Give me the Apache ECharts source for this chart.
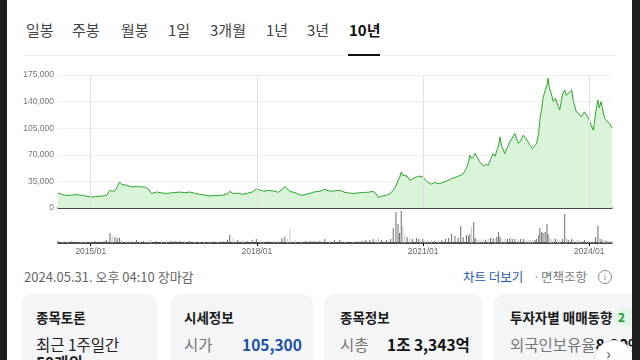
<!DOCTYPE html>
<html><head><meta charset="utf-8">
<script src="https://cdn.jsdelivr.net/npm/echarts@6/dist/echarts.min.js"></script>
<style>
html,body{margin:0;padding:0;width:640px;height:360px;overflow:hidden;background:#fff;font-family:"Noto Sans CJK KR","Noto Sans",sans-serif;}
.a{position:absolute;white-space:nowrap;}
.tab{top:20px;line-height:20px;font-size:15px;color:#444;}
.card{position:absolute;top:294px;height:90px;background:#f4f5f7;border-radius:11px;}
.ct{top:308px;line-height:18px;font-size:13.5px;font-weight:bold;color:#1a1a1a;}
.cl{top:334px;line-height:20px;font-size:15.5px;color:#222;}
</style></head><body>
<div class="a" style="left:0;top:0;width:7px;height:360px;background:#1f1f1f;z-index:5"></div>
<div class="a" style="left:632px;top:0;width:8px;height:360px;background:#1f1f1f;z-index:5"></div>

<div class="a tab" style="left:26px">일봉</div>
<div class="a tab" style="left:72px">주봉</div>
<div class="a tab" style="left:121px">월봉</div>
<div class="a tab" style="left:168px">1일</div>
<div class="a tab" style="left:210px">3개월</div>
<div class="a tab" style="left:266px">1년</div>
<div class="a tab" style="left:307px">3년</div>
<div class="a tab" style="left:349px;font-weight:bold;color:#111">10년</div>
<div class="a" style="left:24px;top:55px;width:592px;height:1px;background:#ebebeb"></div>
<div class="a" style="left:348px;top:54px;width:32px;height:2px;background:#111"></div>

<div id="chart" class="a" style="left:0;top:0;width:640px;height:265px;"></div>

<div class="a" style="left:24px;top:269px;line-height:16px;font-size:13px;color:#666">2024.05.31. 오후 04:10 장마감</div>
<div class="a" style="left:463px;top:269px;line-height:16px;font-size:12.5px;color:#1f56b3">차트 더보기</div>
<div class="a" style="left:533px;top:269px;line-height:16px;font-size:12.5px;color:#999">·</div>
<div class="a" style="left:541px;top:269px;line-height:16px;font-size:12.5px;color:#777">면책조항</div>
<div class="a" style="left:598px;top:270px;width:12px;height:12px;border:1px solid #888;border-radius:50%;font-size:9px;line-height:12px;text-align:center;color:#777;font-family:'Liberation Serif',serif">i</div>

<div class="card" style="left:22px;width:135px"></div>
<div class="card" style="left:170px;width:143px"></div>
<div class="card" style="left:324px;width:158px"></div>
<div class="card" style="left:494px;width:170px"></div>

<div class="a ct" style="left:36px">종목토론</div>
<div class="a cl" style="left:36px">최근 1주일간</div>
<div class="a cl" style="left:36px;top:352px;font-weight:bold">59개의</div>

<div class="a ct" style="left:184px">시세정보</div>
<div class="a cl" style="left:184px;color:#777">시가</div>
<div class="a cl" style="left:242px;font-weight:bold;color:#1c4fa6">105,300</div>

<div class="a ct" style="left:340px">종목정보</div>
<div class="a cl" style="left:340px;color:#777">시총</div>
<div class="a cl" style="left:387px;font-weight:bold;color:#111">1조 3,343억</div>

<div class="a ct" style="left:510px">투자자별 매매동향</div>
<div class="a" style="left:614px;top:308px;width:20px;height:18px;border-radius:9px;background:#e3f5e7;color:#1f9a3e;font-size:12px;line-height:18px;font-weight:bold;padding-left:4px">2</div>
<div class="a cl" style="left:510px;color:#777">외국인보유율<b style="color:#111">8.30%</b></div>
<div class="a" style="left:594px;top:340px;width:38px;height:38px;border-radius:50%;background:#fff;border:1px solid #ddd;z-index:3"></div>
<div class="a" style="left:606px;top:343px;font-size:16px;line-height:20px;color:#555;z-index:4">›</div>

<script>
// Price (won) and volume (thousand shares), 10-year view
const dates = [
 '2014-05-30','2014-06-30','2014-07-31','2014-08-29','2014-09-30','2014-10-31','2014-11-28','2014-12-30',
 '2015-01-30','2015-02-27','2015-03-31','2015-04-15','2015-05-08','2015-05-22','2015-06-10','2015-06-25','2015-07-10','2015-07-24','2015-08-25','2015-09-15','2015-10-08','2015-10-30','2015-11-20','2015-12-15','2015-12-30',
 '2016-01-20','2016-02-05','2016-03-10','2016-04-12','2016-05-15','2016-06-15','2016-07-15','2016-08-10','2016-09-12','2016-10-15','2016-11-15','2016-12-20',
 '2017-01-20','2017-02-24','2017-03-25','2017-04-20','2017-05-22','2017-06-20','2017-07-06','2017-07-28','2017-08-28','2017-10-01','2017-11-01','2017-12-01','2017-12-28',
 '2018-01-25','2018-02-14','2018-03-15','2018-04-20','2018-05-22','2018-06-15','2018-07-04','2018-07-20','2018-08-06','2018-09-10','2018-10-20','2018-11-20','2018-12-20',
 '2019-01-10','2019-02-20','2019-03-25','2019-04-25','2019-05-28','2019-07-01','2019-08-05','2019-09-27','2019-10-28','2019-11-28','2019-12-20',
 '2020-01-15','2020-02-06','2020-02-25','2020-03-12','2020-04-01','2020-05-04','2020-06-01','2020-06-18','2020-07-06','2020-07-20','2020-07-30','2020-08-10','2020-08-20','2020-09-02','2020-09-18','2020-10-05','2020-10-22','2020-11-18','2020-12-03','2020-12-16','2020-12-30',
 '2021-01-15','2021-02-01','2021-02-24','2021-03-18','2021-04-12','2021-05-05','2021-05-28','2021-06-18','2021-07-08','2021-07-30','2021-08-20','2021-09-06','2021-09-22','2021-10-14','2021-10-27','2021-11-05','2021-11-17','2021-12-01','2021-12-10','2021-12-20','2021-12-30',
 '2022-01-12','2022-02-03','2022-02-18','2022-03-07','2022-03-22','2022-04-08','2022-04-22','2022-05-02','2022-05-13','2022-05-23','2022-06-03','2022-06-24','2022-07-12','2022-07-27','2022-08-12','2022-08-29','2022-09-21','2022-10-05','2022-10-24','2022-11-07','2022-11-24','2022-12-09','2022-12-23',
 '2023-01-09','2023-01-20','2023-02-03','2023-02-10','2023-02-22','2023-03-03','2023-03-17','2023-03-29','2023-04-05','2023-04-14','2023-04-26','2023-05-10','2023-05-25','2023-06-08','2023-06-21','2023-07-10','2023-07-24','2023-08-04','2023-08-16','2023-09-08','2023-09-20','2023-10-09','2023-10-25','2023-11-10','2023-12-01','2023-12-15','2023-12-29',
 '2024-01-12','2024-01-29','2024-02-13','2024-02-28','2024-03-08','2024-03-20','2024-04-01','2024-04-12','2024-04-24','2024-05-03','2024-05-17','2024-05-31'
];
const prices = [
 19800,17500,16500,17000,17700,16800,15800,14500,
 14800,15400,16000,16700,23300,22000,23000,28000,34300,31000,30000,28500,27700,28500,27700,28000,26900,
 24000,19000,21000,20000,19000,20000,20500,21000,20000,21000,19500,18000,
 17000,15800,16500,16300,17100,18500,22000,19000,19500,18000,19500,21000,24700,
 23500,22000,23000,22400,20700,24000,28600,25000,22000,20000,16700,18000,19500,
 21000,22000,24700,22000,22500,23300,20500,19000,19800,20500,20500,
 21000,22000,19000,13700,15500,16700,19500,23300,29000,36500,40000,47500,43000,40900,42000,36500,38000,40900,42000,40000,40900,
 37000,34000,31300,33500,32000,33000,35000,36500,38800,40000,42000,43000,45400,52000,60000,69500,65000,68000,71700,68000,67300,
 60000,55000,57000,56300,64000,71700,68000,76000,80000,93600,82000,71700,80000,87000,92000,98000,85000,88000,95900,92000,87000,82000,78300,
 82000,85000,100000,115700,130000,144300,155000,162000,170600,158000,150900,140000,144300,135000,128800,150000,155200,148000,150900,155200,140000,126600,124000,120000,126600,122000,117900,
 110000,102500,125000,142000,132000,139800,128000,117900,120000,113400,111000,105300
];
const volumes = [
 200,150,150,200,150,150,150,150,
 200,150,200,300,1000,700,600,500,500,300,200,200,200,300,200,200,200,
 300,300,200,200,200,200,200,200,200,200,150,150,
 150,150,150,150,150,300,800,500,300,300,200,300,400,
 300,200,200,200,200,500,600,400,1400,300,200,200,200,
 200,200,400,200,300,300,200,150,150,200,300,
 300,400,300,500,300,300,400,1500,3100,1900,1000,3200,1700,800,600,500,400,500,400,300,400,
 300,300,300,200,300,300,400,500,900,700,500,1700,600,800,700,900,1600,2100,500,400,300,
 400,400,300,400,500,500,400,600,1100,600,400,400,400,500,400,400,300,400,400,300,300,300,300,
 300,400,800,1500,1100,1000,1100,1900,900,500,400,400,400,300,300,400,2900,500,300,400,300,300,300,200,300,200,200,
 200,200,600,1700,500,400,300,300,200,200,200,200
];
const xTickDates = ['2015-01-01','2018-01-01','2021-01-01','2024-01-01'];
const yMin = 0, yMax = 175000, yStep = 35000;

const ts = s => new Date(s + 'T00:00:00').getTime();
const tickTs = xTickDates.map(ts);
const xMin = ts(dates[0]), xMax = ts(dates[dates.length - 1]);
const priceData = dates.map((d, i) => [ts(d), prices[i]]);
const volData = dates.map((d, i) => ({
  value: [ts(d), volumes[i]],
  itemStyle: { color: (i > 0 && prices[i] < prices[i - 1]) ? '#c6c6c6' : '#6c6c6c' }
}));
const fmtDate = v => { const d = new Date(v); return d.getFullYear() + '/' + String(d.getMonth() + 1).padStart(2, '0'); };
const lblFont = 'Liberation Sans, Arial, sans-serif';

const chart = echarts.init(document.getElementById('chart'));
chart.setOption({
  animation: false,
  grid: [
    { left: 58, top: 75, width: 554, height: 133 },
    { left: 58, top: 211, width: 554, height: 32 }
  ],
  xAxis: [
    { type: 'value', gridIndex: 0, min: xMin, max: xMax,
      axisLine: { lineStyle: { color: '#111', width: 1.5 } },
      axisTick: { show: false }, axisLabel: { show: false }, splitLine: { show: false } },
    { type: 'value', gridIndex: 1, min: xMin, max: xMax,
      axisLine: { lineStyle: { color: '#111', width: 1.5 } },
      axisTick: { show: true, length: 3, customValues: tickTs, lineStyle: { color: '#111' } },
      axisLabel: { customValues: tickTs, formatter: fmtDate, fontSize: 8.5, color: '#666', margin: 4, fontFamily: lblFont },
      splitLine: { show: false } }
  ],
  yAxis: [
    { type: 'value', gridIndex: 0, min: yMin, max: yMax, interval: yStep,
      axisLabel: { formatter: v => v.toLocaleString('en-US'), fontSize: 8.5, color: '#777', margin: 4, fontFamily: lblFont },
      splitLine: { lineStyle: { color: '#efefef' } }, axisLine: { show: false }, axisTick: { show: false } },
    { type: 'value', gridIndex: 1, min: 0, max: 3200, show: false }
  ],
  series: [
    { type: 'line', xAxisIndex: 0, yAxisIndex: 0, data: priceData, symbol: 'none',
      lineStyle: { color: '#2aa52a', width: 1 }, areaStyle: { color: '#daf4da', opacity: 1 },
      markLine: { silent: true, symbol: 'none', label: { show: false },
        lineStyle: { color: '#e2e2e2', type: 'solid', width: 1 },
        data: tickTs.map(t => ({ xAxis: t })) } },
    { type: 'bar', xAxisIndex: 1, yAxisIndex: 1, data: volData, barWidth: 1 }
  ]
});
</script>
</body></html>
